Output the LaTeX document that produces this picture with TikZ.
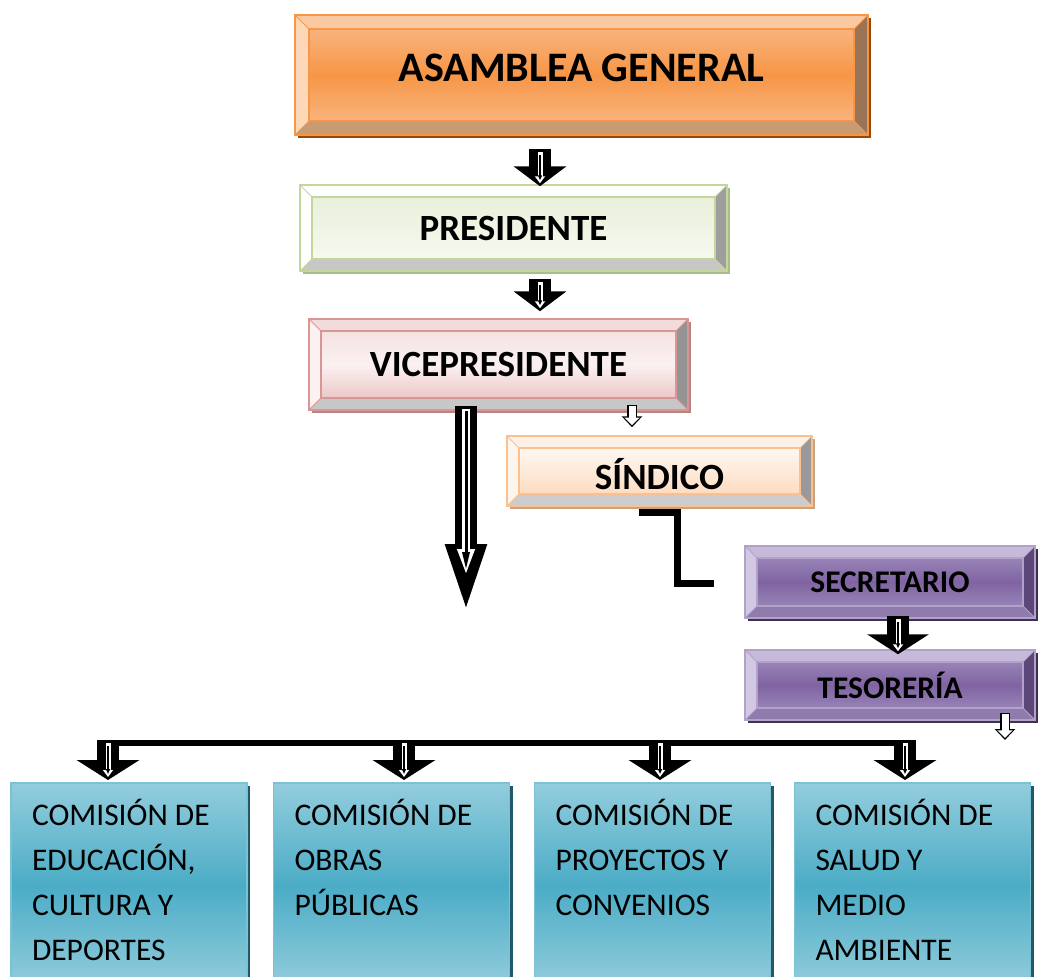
\documentclass[tikz,border=0pt]{standalone}
\usepackage{fontspec}
\setmainfont{Carlito}
\usetikzlibrary{arrows.meta,shadows}

\definecolor{ascMid}{HTML}{F79646}
\definecolor{ascLight}{HTML}{F9BC8E}
\definecolor{ascTop}{HTML}{FAC9A1}
\definecolor{ascLeft}{HTML}{FCD8B8}
\definecolor{ascRight}{HTML}{9A7457}
\definecolor{ascBot}{HTML}{C99B73}
\definecolor{ascShadow}{HTML}{984807}
\definecolor{preTop}{HTML}{E6EED6}
\definecolor{preBot}{HTML}{F8FBF3}
\definecolor{preLine}{HTML}{C3D69B}
\definecolor{preShadow}{HTML}{A9BD8C}
\definecolor{viceTop}{HTML}{F2DCDB}
\definecolor{viceMid}{HTML}{FBF1F1}
\definecolor{viceBot}{HTML}{E6B9B8}
\definecolor{viceLine}{HTML}{D99694}
\definecolor{viceShadow}{HTML}{B58483}
\definecolor{sinBot}{HTML}{FCD5B4}
\definecolor{sinLine}{HTML}{FAC090}
\definecolor{sinShadow}{HTML}{C9A27F}
\definecolor{purMid}{HTML}{8064A2}
\definecolor{purLight}{HTML}{A493C2}
\definecolor{purTop}{HTML}{C6B9DA}
\definecolor{purLeft}{HTML}{D3C8E3}
\definecolor{purRight}{HTML}{5C4778}
\definecolor{purBot}{HTML}{8F7CAD}
\definecolor{purLine}{HTML}{B3A2C7}
\definecolor{purShadow}{HTML}{3F3151}
\definecolor{comLight}{HTML}{93CDDD}
\definecolor{comMid}{HTML}{4BACC6}
\definecolor{comLine}{HTML}{7CC2D5}
\definecolor{comShadow}{HTML}{215968}

\tikzset{
  bevelbox/.style n args={6}{draw=#5, line width=1.5pt, inner sep=0pt,
    path picture={
      \fill[#1] (path picture bounding box.north west) -- (path picture bounding box.north east)
        -- ([xshift=-#6,yshift=-#6]path picture bounding box.north east)
        -- ([xshift=#6,yshift=-#6]path picture bounding box.north west) -- cycle;
      \fill[#2] (path picture bounding box.north west) -- ([xshift=#6,yshift=-#6]path picture bounding box.north west)
        -- ([xshift=#6,yshift=#6]path picture bounding box.south west)
        -- (path picture bounding box.south west) -- cycle;
      \fill[#3] (path picture bounding box.north east) -- (path picture bounding box.south east)
        -- ([xshift=-#6,yshift=#6]path picture bounding box.south east)
        -- ([xshift=-#6,yshift=-#6]path picture bounding box.north east) -- cycle;
      \fill[#4] (path picture bounding box.south west) -- ([xshift=#6,yshift=#6]path picture bounding box.south west)
        -- ([xshift=-#6,yshift=#6]path picture bounding box.south east)
        -- (path picture bounding box.south east) -- cycle;
      \draw[#5, line width=1.2pt] ([xshift=#6,yshift=-#6]path picture bounding box.north west)
        rectangle ([xshift=-#6,yshift=#6]path picture bounding box.south east);
      \draw[#5, line width=1pt] (path picture bounding box.north west) -- ++(#6,-#6)
        (path picture bounding box.north east) -- ++(-#6,-#6)
        (path picture bounding box.south west) -- ++(#6,#6)
        (path picture bounding box.south east) -- ++(-#6,#6);
    }},
  ascbox/.style={bevelbox={ascTop}{ascLeft}{ascRight}{ascBot}{ascMid}{14pt},
    top color=ascLight, bottom color=ascLight, middle color=ascMid,
    drop shadow={shadow xshift=3pt, shadow yshift=-3pt, fill=ascShadow, opacity=1},
    font=\bfseries\fontsize{42}{50}\selectfont},
  prebox/.style={bevelbox={white}{white}{black!38}{black!22}{preLine}{12pt},
    top color=preTop, bottom color=preBot,
    drop shadow={shadow xshift=3pt, shadow yshift=-3pt, fill=preShadow, opacity=1},
    font=\bfseries\fontsize{37}{44}\selectfont},
  vicebox/.style={bevelbox={viceTop}{viceMid}{black!42}{black!22}{viceLine}{12pt},
    top color=viceTop, bottom color=viceBot, middle color=viceMid,
    drop shadow={shadow xshift=3pt, shadow yshift=-3pt, fill=viceShadow, opacity=1},
    font=\bfseries\fontsize{37}{44}\selectfont},
  sinbox/.style={bevelbox={sinBot!35}{sinBot!25}{black!40}{black!20}{sinLine}{12pt},
    top color=white, bottom color=sinBot,
    drop shadow={shadow xshift=3pt, shadow yshift=-3pt, fill=sinShadow, opacity=1},
    font=\bfseries\fontsize{37}{44}\selectfont},
  purbox/.style={bevelbox={purTop}{purLeft}{purRight}{purBot}{purLine}{12pt},
    top color=purLight, bottom color=purLight, middle color=purMid,
    drop shadow={shadow xshift=3pt, shadow yshift=-3pt, fill=purShadow, opacity=1},
    font=\bfseries\fontsize{31.5}{38}\selectfont,
    minimum width=290pt},
  combox/.style={draw=comLine, line width=1.5pt, anchor=north,
    top color=comLight, bottom color=comLight, middle color=comMid,
    drop shadow={shadow xshift=3pt, shadow yshift=-3pt, fill=comShadow, opacity=1},
    inner xsep=21pt, inner ysep=11.5pt, minimum width=236pt,
    font=\fontsize{31.5}{45}\selectfont},
  blk/.style={draw=black, line width=22pt, -{Triangle[width=#1,length=20pt]},
    postaction={draw=white, line width=5pt, shorten <=3pt, shorten >=3pt, -{Triangle[width=10pt,length=7pt]}},
    postaction={draw=black, line width=1.6pt, shorten <=6pt, shorten >=6pt, -{Triangle[width=4pt,length=5pt]}}},
  blk/.default=52pt,
  hollow/.style={draw=black, line width=10pt, -{Triangle[width=20pt,length=11pt]},
    postaction={draw=white, line width=7pt, shorten <=1.5pt, shorten >=2.2pt, -{Triangle[width=15pt,length=7.5pt]}}},
  bigarrow/.style={draw=black, line width=22pt, -{Triangle[width=35pt,length=76pt]},
    postaction={draw=white, line width=8pt, shorten <=3pt, shorten >=45pt, -{Triangle[width=16pt,length=26pt]}},
    postaction={draw=black, line width=3pt, shorten <=5pt, shorten >=50pt, -{Triangle[width=7pt,length=18pt]}}},
  elbow/.style={draw=black, line width=6.5pt, line join=miter},
  bar/.style={draw=black, line width=6pt},
}

\begin{document}
\begin{tikzpicture}[x=1pt, y=-1pt]
\useasboundingbox (0,0) rectangle (1039,977);
\clip (0,0) rectangle (1039,977);

%Asamblea general
\node[ascbox, minimum width=573pt, minimum height=120pt, text depth=14pt] (asamblea) at (581.5,75) {ASAMBLEA GENERAL};

%Presidente
\node[prebox, minimum width=427pt, minimum height=86pt] (presidente) at (513.5,228) {PRESIDENTE};

%Vicepresidente
\node[vicebox, minimum width=379pt, minimum height=91pt] (vice) at (498.5,364.5) {VICEPRESIDENTE};

%Sindico
\node[sinbox, minimum width=305pt, minimum height=70pt, text height=38pt] (sindico) at (659.5,471) {SÍNDICO};

%Secretario
\node[purbox, minimum height=72pt] (secretario) at (890,582) {SECRETARIO};

%Tesoreria
\node[purbox, minimum height=70pt] (tesoreria) at (890,685) {TESORERÍA};

%Comisiones
\node[combox] (com1) at (129,782) {\parbox[c][182pt][t]{194pt}{\strut COMISIÓN DE\\EDUCACIÓN,\\CULTURA Y\\DEPORTES}};
\node[combox] (com2) at (391.5,782) {\parbox[c][182pt][t]{194pt}{\strut COMISIÓN DE\\OBRAS\\PÚBLICAS}};
\node[combox] (com3) at (652.5,782) {\parbox[c][182pt][t]{194pt}{\strut COMISIÓN DE\\PROYECTOS Y\\CONVENIOS}};
\node[combox] (com4) at (912.5,782) {\parbox[c][182pt][t]{194pt}{\strut COMISIÓN DE\\SALUD Y\\MEDIO\\AMBIENTE}};

%free ends
\coordinate (vpend) at (466,620);
\coordinate (tsend) at (1005,740);

%Paths
%asamblea to presidente
\draw[blk] ([xshift=-41.5pt,yshift=-13pt]asamblea.south) -- ([xshift=26.5pt,yshift=-2pt]presidente.north);
%presidente to vicepresidente
\draw[blk] ([xshift=26.5pt,yshift=-7pt]presidente.south) -- ([xshift=41.5pt,yshift=7pt]vice.north);
%vicepresidente to sindico
\draw[hollow] ([xshift=133.5pt,yshift=6pt]vice.south) -- ([xshift=-27.5pt,yshift=8pt]sindico.north);
%vicepresidente down
\draw[bigarrow] ([xshift=-32.5pt,yshift=5pt]vice.south) -- (vpend);
%sindico to secretario
\draw[elbow] ([xshift=-20.5pt,yshift=-5.5pt]sindico.south) -| ([xshift=-67pt,yshift=-1.5pt]secretario.west)
  -- ([xshift=-30pt,yshift=-1.5pt]secretario.west);
%secretario to tesoreria
\draw[blk=61pt] ([xshift=8pt,yshift=3pt]secretario.south) -- ([xshift=8pt,yshift=-5pt]tesoreria.north);
%tesoreria down
\draw[hollow] ([xshift=115pt,yshift=8pt]tesoreria.south) -- (tsend);

%bar over the comisiones
\draw[bar] ([xshift=-32pt,yshift=39pt]com1.north) -- ([xshift=3.5pt,yshift=39pt]com4.north);
\draw[blk=62pt] ([xshift=-21pt,yshift=42pt]com1.north) -- ([xshift=-21pt,yshift=2pt]com1.north);
\draw[blk=62pt] ([xshift=12.5pt,yshift=42pt]com2.north) -- ([xshift=12.5pt,yshift=2pt]com2.north);
\draw[blk=62pt] ([xshift=7.5pt,yshift=42pt]com3.north) -- ([xshift=7.5pt,yshift=2pt]com3.north);
\draw[blk=62pt] ([xshift=-7.5pt,yshift=42pt]com4.north) -- ([xshift=-7.5pt,yshift=2pt]com4.north);

\end{tikzpicture}
\end{document}
